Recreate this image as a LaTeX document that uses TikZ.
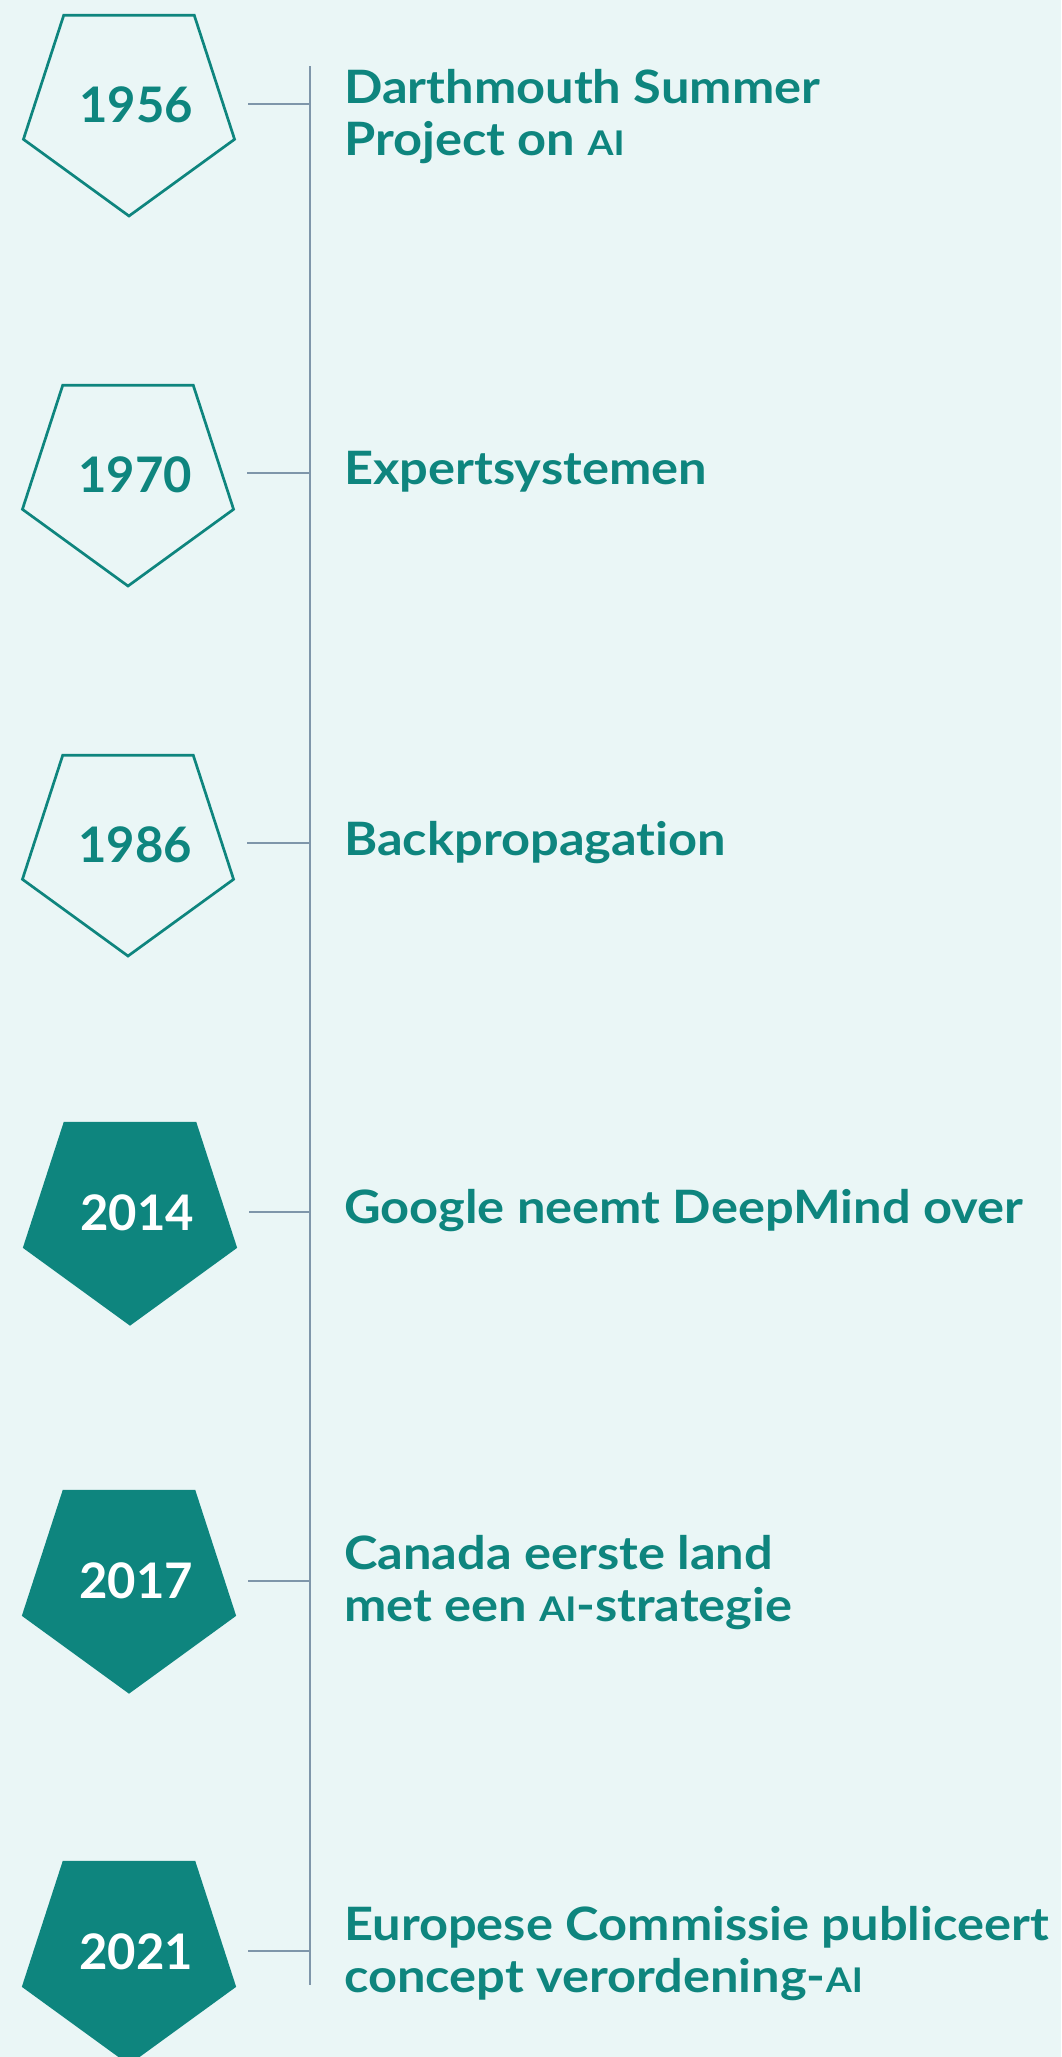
\documentclass[tikz,border=0pt]{standalone}
\usepackage{fontspec}
\setmainfont{Lato}
\newfontfamily\breedfont{Lato}[FakeStretch=1.10, Ligatures=NoCommon]
\usetikzlibrary{shapes.geometric}

\definecolor{achter}{RGB}{234,246,246}
\definecolor{petrol}{RGB}{14,133,126}
\definecolor{lijn}{RGB}{127,150,170}

\newcommand{\ai}{{\fontsize{34}{34}\selectfont AI}}

\tikzset{
  jaar/.style={regular polygon, regular polygon sides=5, shape border rotate=180,
    minimum size=222pt, inner sep=0pt, draw=petrol, line width=2.7pt},
  open/.style={jaar},
  vol/.style={jaar, fill=petrol},
  jaartal/.style={inner sep=0pt, text=petrol, font=\fontsize{49}{49}\selectfont\bfseries},
  tekst/.style={anchor=base west, align=left, inner sep=0pt, text=petrol,
    font=\breedfont\fontsize{46}{52}\selectfont\bfseries},
  streep/.style={draw=lijn, line width=2pt},
}

\begin{document}
\begin{tikzpicture}[x=1pt,y=-1pt]
        % achtergrond
        \useasboundingbox (0,0) rectangle (1061,2057);
        \fill[achter] (0,0) rectangle (1061,2057);
        \clip (0,0) rectangle (1061,2057);

        % tijdlijn
        \coordinate (boven) at (310,66);
        \coordinate (onder) at (310,1985);
        \draw[draw=lijn, line width=1.5pt] (boven) -- (onder);

        % 1956
        \node[open] (p1) at (129,105) {};
        \node[jaartal] (j1) at ([xshift=7pt]p1.center) {1956};
        \coordinate (s1) at (248,104);
        \draw[streep] (s1) -- (s1 -| boven);
        \node[tekst] (t1) at (344,155) {Darthmouth Summer\\Project on \ai};

        % 1970
        \node[open] (p2) at (128,475) {};
        \node[jaartal] (j2) at ([xshift=7pt]p2.center) {1970};
        \coordinate (s2) at (247,473);
        \draw[streep] (s2) -- (s2 -| boven);
        \node[tekst] (t2) at (344,484) {Expertsystemen};

        % 1986
        \node[open] (p3) at (128,845) {};
        \node[jaartal] (j3) at ([xshift=7pt]p3.center) {1986};
        \coordinate (s3) at (247,843);
        \draw[streep] (s3) -- (s3 -| boven);
        \node[tekst] (t3) at (344,855) {Backpropagation};

        % 2014
        \node[vol] (p4) at (130,1213) {};
        \node[jaartal, text=white] (j4) at ([xshift=7pt]p4.center) {2014};
        \coordinate (s4) at (249,1212);
        \draw[streep] (s4) -- (s4 -| boven);
        \node[tekst] (t4) at (344,1223) {Google neemt DeepMind over};

        % 2017
        \node[vol] (p5) at (129,1581) {};
        \node[jaartal, text=white] (j5) at ([xshift=7pt]p5.center) {2017};
        \coordinate (s5) at (248,1581);
        \draw[streep] (s5) -- (s5 -| boven);
        \node[tekst] (t5) at (344,1621) {Canada eerste land\\met een \ai-strategie};

        % 2021
        \node[vol] (p6) at (129,1952) {};
        \node[jaartal, text=white] (j6) at ([xshift=7pt]p6.center) {2021};
        \coordinate (s6) at (248,1951);
        \draw[streep] (s6) -- (s6 -| boven);
        \node[tekst] (t6) at (344,1992) {Europese Commissie publiceert\\concept verordening-\ai};
\end{tikzpicture}
\end{document}
